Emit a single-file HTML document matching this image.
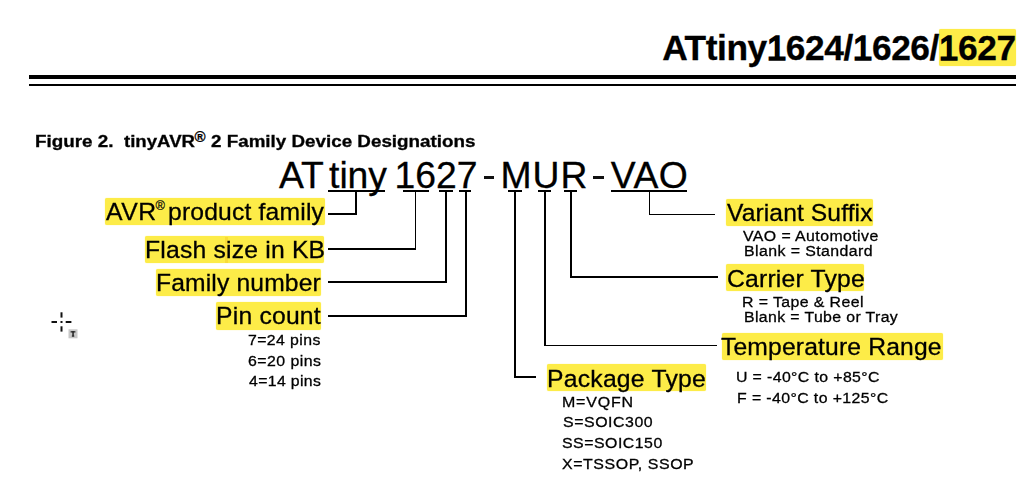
<!DOCTYPE html>
<html><head><meta charset="utf-8"><style>
html,body{margin:0;padding:0;background:#fff;}
body{width:1024px;height:493px;position:relative;overflow:hidden;font-family:"Liberation Sans",sans-serif;color:#000;}
.t{position:absolute;white-space:nowrap;line-height:1;-webkit-text-stroke:0.3px #000;}
.r{position:absolute;}
</style></head><body>
<div class="r" style="left:939.00px;top:28.70px;width:77.00px;height:37.80px;background:#fdec48;border-radius:2px;box-shadow:0 0 1px #fdec48"></div>
<div class="r" style="left:104.70px;top:198.30px;width:220.00px;height:26.90px;background:#fdec48;border-radius:2px;box-shadow:0 0 1px #fdec48"></div>
<div class="r" style="left:144.70px;top:235.70px;width:179.50px;height:27.80px;background:#fdec48;border-radius:2px;box-shadow:0 0 1px #fdec48"></div>
<div class="r" style="left:155.70px;top:268.60px;width:165.30px;height:27.60px;background:#fdec48;border-radius:2px;box-shadow:0 0 1px #fdec48"></div>
<div class="r" style="left:216.40px;top:302.10px;width:104.90px;height:27.50px;background:#fdec48;border-radius:2px;box-shadow:0 0 1px #fdec48"></div>
<div class="r" style="left:726.10px;top:198.80px;width:147.00px;height:26.80px;background:#fdec48;border-radius:2px;box-shadow:0 0 1px #fdec48"></div>
<div class="r" style="left:726.30px;top:264.10px;width:137.80px;height:27.30px;background:#fdec48;border-radius:2px;box-shadow:0 0 1px #fdec48"></div>
<div class="r" style="left:721.70px;top:332.70px;width:221.10px;height:27.70px;background:#fdec48;border-radius:2px;box-shadow:0 0 1px #fdec48"></div>
<div class="r" style="left:547.40px;top:364.30px;width:159.00px;height:27.20px;background:#fdec48;border-radius:2px;box-shadow:0 0 1px #fdec48"></div>
<div class="r" style="left:225.00px;top:236.50px;width:3.00px;height:26.00px;background:rgba(235,160,0,0.22);filter:blur(0.5px)"></div>
<div class="r" style="left:29.40px;top:74.60px;width:986.20px;height:4.80px;background:#000;"></div>
<div class="r" style="left:29.40px;top:84.20px;width:986.20px;height:2.20px;background:#000;"></div>
<div class="t" style="left:662.20px;top:30.00px;font-size:35.32px;letter-spacing:-0.458px;font-weight:bold;">ATtiny<span style="font-weight:normal;-webkit-text-stroke:1.7px #000">1</span>624/<span style="font-weight:normal;-webkit-text-stroke:1.7px #000">1</span>626/<span style="font-weight:normal;-webkit-text-stroke:1.7px #000">1</span>627</div>
<div class="t" style="left:35.30px;top:133.00px;font-size:17.2px;letter-spacing:0.000px;transform:scaleX(1.0957);transform-origin:0 0;-webkit-text-stroke:0.35px #111;font-weight:bold;">Figure 2.</div>
<div class="t" style="left:124.10px;top:133.00px;font-size:17.2px;letter-spacing:0.000px;transform:scaleX(1.0831);transform-origin:0 0;-webkit-text-stroke:0.35px #111;font-weight:bold;">tinyAVR</div>
<div class="t" style="left:210.51px;top:133.00px;font-size:17.2px;letter-spacing:0.000px;transform:scaleX(1.0942);transform-origin:0 0;-webkit-text-stroke:0.35px #111;font-weight:bold;">2 Family Device Designations</div>
<div class="t" style="left:279.10px;top:157.00px;font-size:37.3px;letter-spacing:-0.100px;">AT</div>
<div class="t" style="left:329.10px;top:157.00px;font-size:37.3px;letter-spacing:-0.067px;">tiny</div>
<div class="t" style="left:394.60px;top:157.00px;font-size:37.3px;letter-spacing:-0.033px;">1627</div>
<div class="r" style="left:483.80px;top:176.20px;width:10.30px;height:3.30px;background:#111;"></div>
<div class="t" style="left:500.50px;top:157.00px;font-size:37.3px;letter-spacing:1.000px;">MUR</div>
<div class="r" style="left:593.20px;top:176.20px;width:10.50px;height:3.30px;background:#111;"></div>
<div class="t" style="left:610.70px;top:157.00px;font-size:37.3px;letter-spacing:0.600px;">VAO</div>
<div class="t" style="left:105.60px;top:200.00px;font-size:24.5px;letter-spacing:0.482px;transform:scaleX(1.0112);transform-origin:0 0;">AVR</div>
<div class="t" style="left:168.28px;top:200.00px;font-size:24.5px;letter-spacing:0.169px;transform:scaleX(1.0079);transform-origin:0 0;">product family</div>
<div class="t" style="left:144.78px;top:238.00px;font-size:24.5px;letter-spacing:0.189px;transform:scaleX(1.0090);transform-origin:0 0;">Flash size in KB</div>
<div class="t" style="left:155.59px;top:271.00px;font-size:24.5px;letter-spacing:0.145px;transform:scaleX(1.0059);transform-origin:0 0;">Family number</div>
<div class="t" style="left:216.18px;top:304.00px;font-size:24.5px;letter-spacing:0.201px;transform:scaleX(1.0088);transform-origin:0 0;">Pin count</div>
<div class="t" style="left:248.37px;top:332.00px;font-size:15.45px;letter-spacing:0.388px;transform:scaleX(1.0260);transform-origin:0 0;">7=24 pins</div>
<div class="t" style="left:247.77px;top:353.00px;font-size:15.45px;letter-spacing:0.434px;transform:scaleX(1.0292);transform-origin:0 0;">6=20 pins</div>
<div class="t" style="left:248.80px;top:373.00px;font-size:15.45px;letter-spacing:0.357px;transform:scaleX(1.0235);transform-origin:0 0;">4=14 pins</div>
<div class="t" style="left:727.00px;top:201.00px;font-size:24.5px;letter-spacing:0.100px;transform:scaleX(1.0049);transform-origin:0 0;">Variant Suffix</div>
<div class="t" style="left:742.90px;top:228.00px;font-size:15.45px;letter-spacing:0.413px;transform:scaleX(1.0274);transform-origin:0 0;">VAO = Automotive</div>
<div class="t" style="left:743.57px;top:243.00px;font-size:15.45px;letter-spacing:0.408px;transform:scaleX(1.0290);transform-origin:0 0;">Blank = Standard</div>
<div class="t" style="left:726.69px;top:267.00px;font-size:24.5px;letter-spacing:0.199px;transform:scaleX(1.0090);transform-origin:0 0;">Carrier Type</div>
<div class="t" style="left:742.27px;top:294.00px;font-size:15.45px;letter-spacing:0.398px;transform:scaleX(1.0277);transform-origin:0 0;">R = Tape &amp; Reel</div>
<div class="t" style="left:743.67px;top:309.00px;font-size:15.45px;letter-spacing:0.363px;transform:scaleX(1.0269);transform-origin:0 0;">Blank = Tube or Tray</div>
<div class="t" style="left:721.49px;top:335.00px;font-size:24.5px;letter-spacing:0.161px;transform:scaleX(1.0065);transform-origin:0 0;">Temperature Range</div>
<div class="t" style="left:736.47px;top:369.00px;font-size:15.45px;letter-spacing:0.376px;transform:scaleX(1.0268);transform-origin:0 0;">U = -40°C to +85°C</div>
<div class="t" style="left:736.97px;top:390.00px;font-size:15.45px;letter-spacing:0.383px;transform:scaleX(1.0276);transform-origin:0 0;">F = -40°C to +125°C</div>
<div class="t" style="left:546.78px;top:367.00px;font-size:24.5px;letter-spacing:0.228px;transform:scaleX(1.0090);transform-origin:0 0;">Package Type</div>
<div class="t" style="left:562.37px;top:394.00px;font-size:15.45px;letter-spacing:0.779px;transform:scaleX(1.0350);transform-origin:0 0;">M=VQFN</div>
<div class="t" style="left:562.77px;top:414.00px;font-size:15.45px;letter-spacing:0.537px;transform:scaleX(1.0294);transform-origin:0 0;">S=SOIC300</div>
<div class="t" style="left:562.47px;top:435.00px;font-size:15.45px;letter-spacing:0.499px;transform:scaleX(1.0270);transform-origin:0 0;">SS=SOIC150</div>
<div class="t" style="left:562.47px;top:456.00px;font-size:15.45px;letter-spacing:0.552px;transform:scaleX(1.0309);transform-origin:0 0;">X=TSSOP, SSOP</div>
<div class="t" style="left:194.5px;top:129.00px;font-size:15px;font-weight:bold">®</div>
<div class="t" style="left:155.6px;top:200.33px;font-size:12.8px;-webkit-text-stroke:0.2px #111">®</div>
<div class="r" style="left:327.70px;top:190.35px;width:56.90px;height:1.70px;background:#000;"></div>
<div class="r" style="left:402.70px;top:190.35px;width:26.00px;height:1.70px;background:#000;"></div>
<div class="r" style="left:439.20px;top:190.35px;width:14.10px;height:1.70px;background:#000;"></div>
<div class="r" style="left:459.10px;top:190.35px;width:12.30px;height:1.70px;background:#000;"></div>
<div class="r" style="left:508.20px;top:190.35px;width:13.90px;height:1.70px;background:#000;"></div>
<div class="r" style="left:537.80px;top:190.35px;width:13.50px;height:1.70px;background:#000;"></div>
<div class="r" style="left:564.30px;top:190.35px;width:13.10px;height:1.70px;background:#000;"></div>
<div class="r" style="left:611.40px;top:190.35px;width:75.50px;height:1.70px;background:#000;"></div>
<div class="r" style="left:355.25px;top:191.20px;width:1.70px;height:24.00px;background:#000;"></div>
<div class="r" style="left:327.80px;top:213.35px;width:29.30px;height:1.70px;background:#000;"></div>
<div class="r" style="left:414.75px;top:191.20px;width:1.70px;height:58.60px;background:#000;"></div>
<div class="r" style="left:328.40px;top:248.05px;width:88.10px;height:1.70px;background:#000;"></div>
<div class="r" style="left:444.95px;top:191.20px;width:1.70px;height:92.00px;background:#000;"></div>
<div class="r" style="left:328.10px;top:281.45px;width:118.60px;height:1.70px;background:#000;"></div>
<div class="r" style="left:465.35px;top:191.20px;width:1.70px;height:125.50px;background:#000;"></div>
<div class="r" style="left:327.60px;top:314.95px;width:139.50px;height:1.70px;background:#000;"></div>
<div class="r" style="left:648.55px;top:191.20px;width:1.70px;height:24.20px;background:#000;"></div>
<div class="r" style="left:648.50px;top:213.65px;width:66.10px;height:1.70px;background:#000;"></div>
<div class="r" style="left:570.35px;top:191.20px;width:1.70px;height:86.60px;background:#000;"></div>
<div class="r" style="left:570.30px;top:276.05px;width:147.30px;height:1.70px;background:#000;"></div>
<div class="r" style="left:543.95px;top:191.20px;width:1.70px;height:155.10px;background:#000;"></div>
<div class="r" style="left:543.90px;top:344.55px;width:173.40px;height:1.70px;background:#000;"></div>
<div class="r" style="left:514.15px;top:191.20px;width:1.70px;height:186.60px;background:#000;"></div>
<div class="r" style="left:514.10px;top:376.05px;width:22.30px;height:1.70px;background:#000;"></div>
<svg class="r" style="left:0;top:0" width="1024" height="493" viewBox="0 0 1024 493">
<g fill="#111">
<rect x="60.5" y="312.3" width="2" height="5.3"/>
<rect x="60.5" y="326.3" width="2" height="5.3"/>
<rect x="51.5" y="321" width="5.5" height="2"/>
<rect x="65.7" y="321" width="5.7" height="2"/>
<rect x="60.5" y="321" width="2" height="2"/>
</g>
<rect x="68.5" y="329.3" width="9" height="9" fill="#c8c8c8" style="filter:blur(0.4px)"/>
<rect x="70.6" y="331.2" width="4.8" height="1.3" fill="#222"/>
<rect x="72.3" y="331.2" width="1.5" height="5.2" fill="#222"/>
<rect x="71.8" y="335.6" width="2.5" height="1" fill="#222"/>
</svg>
</body></html>
